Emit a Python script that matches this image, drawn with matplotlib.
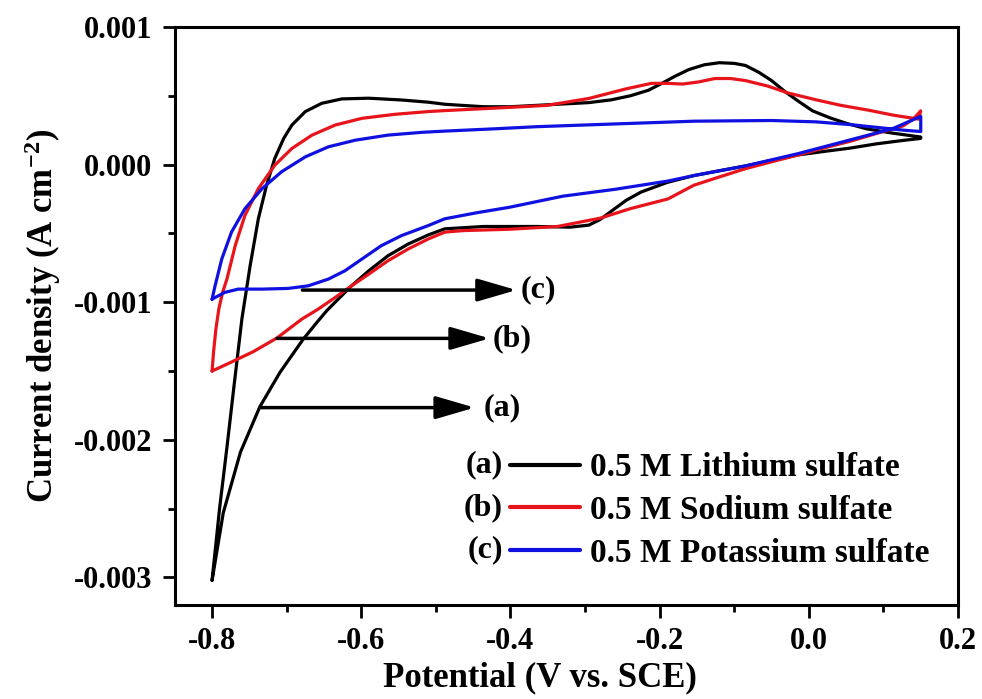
import numpy as np
import matplotlib
matplotlib.use('Agg')
import matplotlib.pyplot as plt
from matplotlib.ticker import MultipleLocator, FormatStrFormatter

plt.rcParams['font.family'] = ['Liberation Serif', 'DejaVu Serif']
plt.rcParams['font.weight'] = 'bold'
plt.rcParams['axes.unicode_minus'] = False
plt.rcParams['mathtext.fontset'] = 'custom'
plt.rcParams['mathtext.rm'] = 'Liberation Serif:bold'
plt.rcParams['mathtext.it'] = 'Liberation Serif:bold:italic'
plt.rcParams['mathtext.bf'] = 'Liberation Serif:bold'

# (a) 0.5 M Lithium sulfate: anodic sweep then cathodic sweep (V vs SCE, mA cm-2)
li_up_x = [-0.800, -0.790, -0.780, -0.770, -0.760, -0.749, -0.738, -0.727, -0.716, -0.704, -0.693,
           -0.675, -0.653, -0.626, -0.590, -0.546, -0.510, -0.488, -0.436, -0.400, -0.365, -0.330,
           -0.295, -0.265, -0.239, -0.215, -0.197, -0.180, -0.161, -0.140, -0.120, -0.100, -0.085,
           -0.067, -0.050, -0.032, -0.014, 0.005, 0.028, 0.050, 0.077, 0.110, 0.150]
li_up_y = [-3.02, -2.50, -2.05, -1.58, -1.12, -0.735, -0.394, -0.151, 0.044, 0.190, 0.287,
           0.385, 0.445, 0.477, 0.482, 0.469, 0.453, 0.438, 0.420, 0.420, 0.430, 0.440,
           0.450, 0.470, 0.500, 0.540, 0.590, 0.640, 0.690, 0.725, 0.740, 0.735, 0.720,
           0.670, 0.610, 0.530, 0.460, 0.390, 0.340, 0.300, 0.260, 0.230, 0.200]
li_dn_x = [0.150, 0.126, 0.090, 0.056, 0.020, -0.014, -0.050, -0.085, -0.120, -0.154, -0.190,
           -0.225, -0.245, -0.260, -0.280, -0.295, -0.320, -0.365, -0.400, -0.436, -0.488, -0.510,
           -0.537, -0.564, -0.590, -0.613, -0.631, -0.646, -0.660, -0.678, -0.709, -0.736, -0.762,
           -0.785, -0.800]
li_dn_y = [0.190, 0.175, 0.150, 0.120, 0.095, 0.070, 0.030, -0.010, -0.045, -0.080, -0.130,
           -0.200, -0.260, -0.320, -0.400, -0.440, -0.455, -0.450, -0.450, -0.450, -0.467, -0.511,
           -0.577, -0.662, -0.772, -0.881, -0.978, -1.060, -1.150, -1.270, -1.510, -1.760, -2.090,
           -2.530, -3.020]

# (b) 0.5 M Sodium sulfate
na_up_x = [-0.800, -0.798, -0.795, -0.791, -0.786, -0.780, -0.769, -0.756, -0.738, -0.716, -0.693,
           -0.666, -0.635, -0.599, -0.555, -0.510, -0.488, -0.421, -0.351, -0.295, -0.245, -0.211,
           -0.190, -0.169, -0.148, -0.126, -0.105, -0.085, -0.055, -0.028, 0.010, 0.043, 0.080,
           0.112, 0.147]
na_up_y = [-1.50, -1.36, -1.20, -1.05, -0.93, -0.83, -0.589, -0.370, -0.175, -0.005, 0.117,
           0.214, 0.287, 0.336, 0.365, 0.385, 0.392, 0.410, 0.430, 0.480, 0.550, 0.590,
           0.590, 0.585, 0.600, 0.625, 0.625, 0.610, 0.570, 0.520, 0.470, 0.430, 0.395,
           0.360, 0.330]
na_dn_x = [0.150, 0.140, 0.126, 0.090, 0.056, 0.020, -0.014, -0.050, -0.085, -0.120, -0.154,
           -0.189, -0.239, -0.280, -0.337, -0.401, -0.464, -0.488, -0.510, -0.537, -0.564, -0.590,
           -0.613, -0.635, -0.658, -0.680, -0.713, -0.745, -0.776, -0.800]
na_dn_y = [0.390, 0.330, 0.280, 0.225, 0.170, 0.120, 0.070, 0.020, -0.030, -0.090, -0.150,
           -0.250, -0.320, -0.390, -0.450, -0.470, -0.480, -0.491, -0.540, -0.613, -0.698, -0.796,
           -0.881, -0.966, -1.051, -1.124, -1.260, -1.360, -1.440, -1.500]

# (c) 0.5 M Potassium sulfate
k_up_x = [-0.800, -0.796, -0.787, -0.774, -0.756, -0.733, -0.707, -0.675, -0.644, -0.608, -0.564,
          -0.519, -0.488, -0.420, -0.365, -0.260, -0.154, -0.050, 0.010, 0.056, 0.100, 0.126,
          0.150]
k_up_y = [-0.978, -0.881, -0.686, -0.491, -0.321, -0.175, -0.053, 0.056, 0.129, 0.177, 0.214,
          0.234, 0.243, 0.260, 0.275, 0.295, 0.315, 0.320, 0.310, 0.290, 0.265, 0.250,
          0.240]
k_dn_x = [0.150, 0.112, 0.056, -0.014, -0.085, -0.154, -0.189, -0.260, -0.330, -0.401, -0.445,
          -0.488, -0.510, -0.546, -0.573, -0.599, -0.622, -0.644, -0.671, -0.698, -0.733, -0.765,
          -0.783, -0.796, -0.800]
k_dn_y = [0.350, 0.260, 0.180, 0.080, -0.010, -0.080, -0.120, -0.180, -0.230, -0.310, -0.350,
          -0.394, -0.443, -0.516, -0.589, -0.686, -0.772, -0.832, -0.881, -0.900, -0.905, -0.905,
          -0.929, -0.966, -0.978]

labels = ['0.5 M Lithium sulfate', '0.5 M Sodium sulfate', '0.5 M Potassium sulfate']
tags = ['(a)', '(b)', '(c)']
colors = ['black', '#e8141b', '#1010e0']

# arrows pointing at each curve: start x, tip x, y (mA cm-2), label x
arrow_start = [-0.736, -0.713, -0.679]
arrow_tip = [-0.448, -0.428, -0.392]
arrow_y = [-1.766, -1.263, -0.912]
tag_x = [-0.436, -0.424, -0.387]

fig = plt.figure(figsize=(9.82, 6.99), dpi=100)
ax = fig.add_axes([0.178, 0.1345, 0.7976, 0.827])

curves = [(li_up_x + li_dn_x, li_up_y + li_dn_y),
          (na_up_x + na_dn_x, na_up_y + na_dn_y),
          (k_up_x + k_dn_x, k_up_y + k_dn_y)]
for (cx, cy), c, lab in zip(curves, colors, labels):
    ax.plot(cx, np.array(cy) * 1e-3, color=c, lw=2.3, label=lab,
            solid_joinstyle='round', solid_capstyle='round')

for xs, xt, yy, tx, tg in zip(arrow_start, arrow_tip, arrow_y, tag_x, tags):
    ax.annotate('', xy=(xt, yy * 1e-3), xytext=(xs, yy * 1e-3),
                arrowprops=dict(arrowstyle='-|>,head_length=1.2,head_width=0.35', lw=2.5,
                                color='black', mutation_scale=20, shrinkA=0, shrinkB=0))
    ax.text(tx, yy * 1e-3, tg, fontsize=23, fontweight='bold', va='center', ha='left')

ax.set_xlim(-0.85, 0.2)
ax.set_ylim(-0.0032, 0.001)
ax.xaxis.set_major_locator(MultipleLocator(0.2))
ax.xaxis.set_minor_locator(MultipleLocator(0.1))
ax.yaxis.set_major_locator(MultipleLocator(0.001))
ax.yaxis.set_minor_locator(MultipleLocator(0.0005))
ax.xaxis.set_major_formatter(FormatStrFormatter('%.1f'))
ax.yaxis.set_major_formatter(FormatStrFormatter('%.3f'))
ax.tick_params(which='major', direction='out', length=9, width=2, labelsize=22, pad=7)
ax.tick_params(which='minor', direction='out', length=5, width=2)
ax.tick_params(top=False, right=False, which='both')
for sp in ax.spines.values():
    sp.set_linewidth(2.2)

ax.set_xlabel('Potential (V vs. SCE)', fontsize=25, fontweight='bold', labelpad=4, x=0.466)
ax.set_ylabel(r'Current density (A cm$^{-2}$)', fontsize=25, fontweight='bold', labelpad=8)

leg = ax.legend(loc='upper left', bbox_to_anchor=(0.428, 0.264), frameon=False, fontsize=24,
                handlelength=2.1, handletextpad=0.3, labelspacing=0.35, borderaxespad=0,
                borderpad=0)
for ln in leg.get_lines():
    ln.set_linewidth(3)

fig.canvas.draw()
inv = fig.transFigure.inverted()
for ln, tg in zip(leg.get_lines(), tags):
    bb = ln.get_window_extent(fig.canvas.get_renderer())
    x0, y0 = inv.transform((bb.x0 - 7, (bb.y0 + bb.y1) / 2))
    fig.text(x0, y0, tg, fontsize=23, fontweight='bold', ha='right', va='center')

fig.savefig('out.png', dpi=100)
